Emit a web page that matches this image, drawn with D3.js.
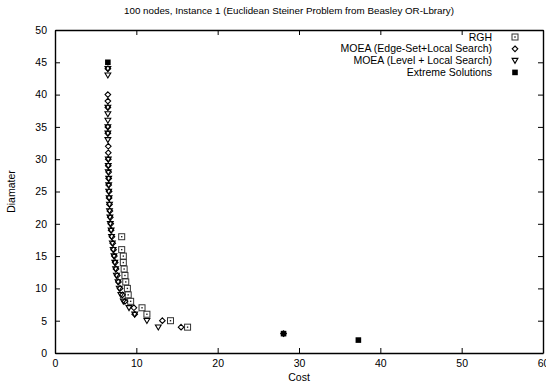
<!DOCTYPE html>
<html>
<head>
<meta charset="utf-8">
<script src="https://cdn.jsdelivr.net/npm/d3@7"></script>
<style>
  body { margin: 0; background: #fff; }
  text { font-family: "Liberation Sans", Arial, sans-serif; fill: #000; }
</style>
</head>
<body>
<div id="chart"></div>
<script>
// data
var xTicks = [0, 10, 20, 30, 40, 50, 60];
var yTicks = [0, 5, 10, 15, 20, 25, 30, 35, 40, 45, 50];

var rghCost = [8.2, 8.2, 8.4, 8.4, 8.5, 8.6, 8.7, 8.9, 9.0, 9.3, 10.7, 11.3, 14.2, 16.3];
var rghDiam = [18, 16, 15, 14, 13, 12, 11, 10, 9, 8, 7, 6, 5, 4];

var edgeCost = [6.5, 6.5, 6.5, 6.5, 6.5, 6.5, 6.55, 6.55, 6.55, 6.55, 6.6, 6.6, 6.6, 6.65, 6.65, 6.7, 6.75, 6.8, 6.85, 6.9, 7.0, 7.1, 7.2, 7.3, 7.4, 7.5, 7.65, 7.8, 8.0, 8.3, 8.6, 9.7, 9.8, 13.2, 15.5, 28.1];
var edgeDiam = [44, 40, 39, 38, 35, 34, 32, 31, 30, 29, 28, 27, 26, 25, 24, 23, 22, 21, 20, 19, 18, 17, 16, 15, 14, 13, 12, 11, 10, 9, 8, 7, 6, 5, 4, 3];

var levelCost = [6.5, 6.5, 6.5, 6.5, 6.5, 6.5, 6.5, 6.5, 6.55, 6.55, 6.55, 6.6, 6.6, 6.6, 6.65, 6.7, 6.7, 6.75, 6.8, 6.9, 6.95, 7.05, 7.15, 7.25, 7.35, 7.45, 7.55, 7.75, 7.9, 8.1, 8.4, 9.1, 9.8, 11.3, 12.7];
var levelDiam = [44, 43, 38, 37, 36, 35, 34, 33, 30, 29, 28, 27, 26, 25, 24, 23, 22, 21, 20, 19, 18, 17, 16, 15, 14, 13, 12, 11, 10, 9, 8, 7, 6, 5, 4];

var extremeCost = [6.5, 28.1, 37.3];
var extremeDiam = [45, 3, 2];

var legendLabels = ["RGH", "MOEA (Edge-Set+Local Search)", "MOEA (Level + Local Search)", "Extreme Solutions"];
var legendKinds = ["square", "diamond", "triangle", "filled"];

var svgWidth = 546;
var svgHeight = 385;
var margin = { top: 30, right: 3, bottom: 32, left: 55 };
var width = svgWidth - margin.left - margin.right;
var height = svgHeight - margin.top - margin.bottom;

var svg = d3.select("#chart")
  .append("svg")
  .attr("width", svgWidth)
  .attr("height", svgHeight);

var chartGroup = svg.append("g")
  .attr("transform", `translate(${margin.left}, ${margin.top})`);

var xScale = d3.scaleLinear().domain([0, 60]).range([0, width]);
var yScale = d3.scaleLinear().domain([0, 50]).range([height, 0]);

// axes, ticks on all four sides pointing inward
chartGroup.append("g")
  .attr("class", "axis")
  .attr("transform", `translate(0, ${height})`)
  .call(d3.axisBottom(xScale).tickValues(xTicks).tickSize(-5).tickSizeOuter(0).tickPadding(7));

chartGroup.append("g")
  .attr("class", "axis")
  .call(d3.axisLeft(yScale).tickValues(yTicks).tickSize(-5).tickSizeOuter(0).tickPadding(8));

chartGroup.append("g")
  .attr("class", "axis")
  .call(d3.axisTop(xScale).tickValues(xTicks).tickSize(-5).tickSizeOuter(0).tickFormat(""));

chartGroup.append("g")
  .attr("class", "axis")
  .attr("transform", `translate(${width}, 0)`)
  .call(d3.axisRight(yScale).tickValues(yTicks).tickSize(-5).tickSizeOuter(0).tickFormat(""));

chartGroup.selectAll(".axis path").attr("stroke", "#000").attr("stroke-width", 1.4);
chartGroup.selectAll(".axis line").attr("stroke", "#000").attr("stroke-width", 1);
chartGroup.selectAll(".axis text").attr("font-size", "10.5px").attr("font-family", "Liberation Sans, Arial, sans-serif");

// marker drawing
function drawMarker(g, kind, cx, cy) {
  if (kind === "square") {
    g.append("rect")
      .attr("x", cx - 3).attr("y", cy - 3)
      .attr("width", 6).attr("height", 6)
      .attr("fill", "none").attr("stroke", "#333").attr("stroke-width", 1);
    g.append("rect")
      .attr("x", cx - 0.7).attr("y", cy - 0.7)
      .attr("width", 1.4).attr("height", 1.4)
      .attr("fill", "#222");
  } else if (kind === "diamond") {
    g.append("path")
      .attr("d", `M${cx},${cy - 2.8}L${cx + 2.8},${cy}L${cx},${cy + 2.8}L${cx - 2.8},${cy}Z`)
      .attr("fill", "none").attr("stroke", "#000").attr("stroke-width", 1.1);
  } else if (kind === "triangle") {
    g.append("path")
      .attr("d", `M${cx - 2.9},${cy - 2.2}L${cx + 2.9},${cy - 2.2}L${cx},${cy + 2.8}Z`)
      .attr("fill", "none").attr("stroke", "#000").attr("stroke-width", 1.1);
  } else {
    g.append("rect")
      .attr("x", cx - 2.8).attr("y", cy - 2.8)
      .attr("width", 5.6).attr("height", 5.6)
      .attr("fill", "#000");
  }
}

var marks = chartGroup.append("g");

rghCost.forEach(function (c, i) {
  drawMarker(marks, "square", xScale(c), yScale(rghDiam[i]));
});
edgeCost.forEach(function (c, i) {
  drawMarker(marks, "diamond", xScale(c), yScale(edgeDiam[i]));
});
levelCost.forEach(function (c, i) {
  drawMarker(marks, "triangle", xScale(c), yScale(levelDiam[i]));
});
extremeCost.forEach(function (c, i) {
  drawMarker(marks, "filled", xScale(c), yScale(extremeDiam[i]));
});

// legend
var legend = chartGroup.append("g");
legendLabels.forEach(function (label, i) {
  var ly = 7 + i * 11.8;
  legend.append("text")
    .attr("x", 437)
    .attr("y", ly)
    .attr("dy", "0.35em")
    .attr("text-anchor", "end")
    .attr("font-size", "10.5px")
    .text(label);
  drawMarker(legend, legendKinds[i], 460, ly);
});

// title and axis labels
svg.append("text")
  .attr("x", 289)
  .attr("y", 14)
  .attr("text-anchor", "middle")
  .attr("font-size", "9.8px")
  .text("100 nodes, Instance 1 (Euclidean Steiner Problem from Beasley OR-Lbrary)");

svg.append("text")
  .attr("x", margin.left + width / 2)
  .attr("y", 381)
  .attr("text-anchor", "middle")
  .attr("font-size", "10.5px")
  .text("Cost");

svg.append("text")
  .attr("transform", `translate(15, ${margin.top + height / 2}) rotate(-90)`)
  .attr("text-anchor", "middle")
  .attr("font-size", "10.5px")
  .text("Diamater");
</script>
</body>
</html>
